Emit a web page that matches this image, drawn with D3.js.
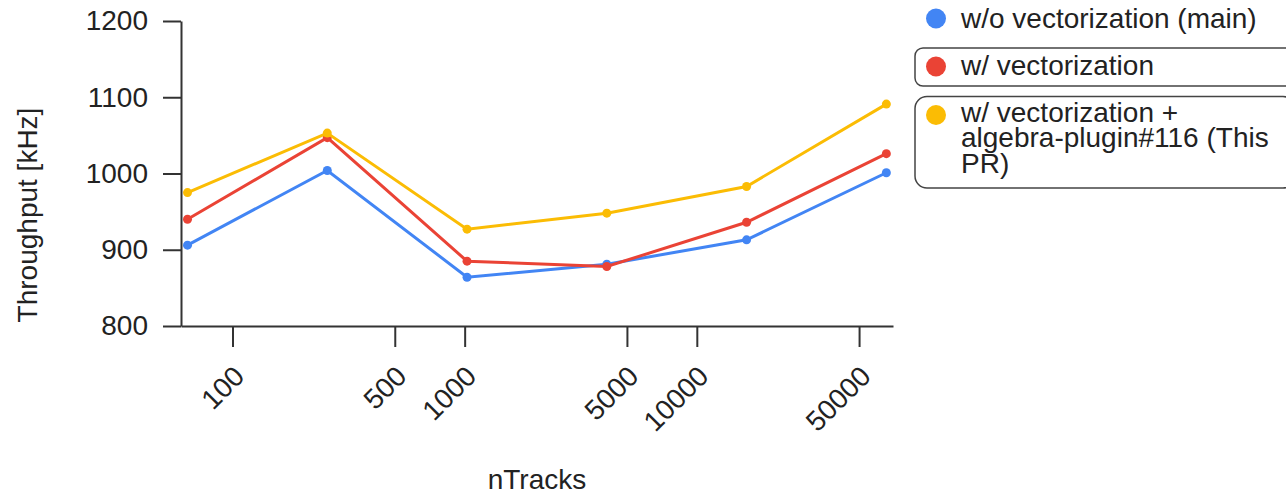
<!DOCTYPE html>
<html><head><meta charset="utf-8">
<script src="https://cdn.jsdelivr.net/npm/d3@7"></script>
<style>html,body{margin:0;padding:0;background:#fff;}svg{display:block;font-family:"Liberation Sans",Arial,sans-serif;}</style>
</head><body><svg id="c" width="1286" height="492"></svg>
<script>
const nTracks = [64, 256, 1024, 4096, 16384, 65536];
const woVec = [906, 1004, 864, 881, 913, 1001];
const wVec = [940, 1047, 885, 878, 936, 1026];
const wVecAlg = [975, 1053, 927, 948, 983, 1091];
const yTicks = [800, 900, 1000, 1100, 1200];
const xTicks = [100, 500, 1000, 5000, 10000, 50000];
const seriesNames = ["w/o vectorization (main)", "w/ vectorization", "w/ vectorization + algebra-plugin#116 (This PR)"];
const legendLines = [["w/o vectorization (main)"], ["w/ vectorization"], ["w/ vectorization +", "algebra-plugin#116 (This", "PR)"]];
const colors = ["#4285F4", "#EA4335", "#FBBC04"];
const series = [woVec, wVec, wVecAlg];

const FS = 28;
const svg = d3.select("#c");
const x = d3.scaleLog().domain([60, 70000]).range([181, 893]);
const y = d3.scaleLinear().domain([800, 1200]).range([326, 21]);
const txt = "#222";

// y axis
const ya = svg.append("g").attr("transform", "translate(181,0)")
  .call(d3.axisLeft(y).tickValues(yTicks).tickSize(18).tickSizeOuter(0).tickPadding(15).tickFormat(d3.format("d")));
ya.selectAll("text").attr("font-size", FS).attr("fill", txt).attr("font-family", "Liberation Sans, Arial, sans-serif");
ya.selectAll("line,path").attr("stroke", "#333").attr("stroke-width", 2);

// x axis
const xa = svg.append("g").attr("transform", "translate(0,326)")
  .call(d3.axisBottom(x).tickValues(xTicks).tickSize(21).tickSizeOuter(0).tickFormat(d3.format("d")));
xa.selectAll("line,path").attr("stroke", "#333").attr("stroke-width", 2);
xa.selectAll("text").attr("font-size", FS).attr("fill", txt).attr("font-family", "Liberation Sans, Arial, sans-serif")
  .attr("text-anchor", "end").attr("dy", "0.35em").attr("y", 0)
  .attr("transform", "translate(6,45) rotate(-45)");

// titles
svg.append("text").attr("transform", "translate(37,215) rotate(-90)").attr("text-anchor", "middle")
  .attr("font-size", FS).attr("fill", txt).text("Throughput [kHz]");
svg.append("text").attr("x", 537).attr("y", 489).attr("text-anchor", "middle")
  .attr("font-size", FS).attr("fill", txt).text("nTracks");

// lines
const line = d3.line().x((d, i) => x(nTracks[i])).y(d => y(d));
series.forEach((s, k) => {
  svg.append("path").datum(s).attr("d", line).attr("fill", "none").attr("stroke", colors[k]).attr("stroke-width", 3);
  svg.selectAll(null).data(s).enter().append("circle")
    .attr("cx", (d, i) => x(nTracks[i])).attr("cy", d => y(d)).attr("r", 4.5).attr("fill", colors[k]);
});

// legend
const lgCy = [18.5, 66.5, 115];
const lgBase = [28, 75, 121.7];
const lg = svg.append("g");
lg.append("rect").attr("x", 915).attr("y", 48).attr("width", 380).attr("height", 38).attr("rx", 8)
  .attr("fill", "none").attr("stroke", "#444").attr("stroke-width", 1.5);
lg.append("rect").attr("x", 915).attr("y", 96.5).attr("width", 380).attr("height", 91.5).attr("rx", 12)
  .attr("fill", "none").attr("stroke", "#444").attr("stroke-width", 1.5);
legendLines.forEach((ls, k) => {
  lg.append("circle").attr("cx", 936).attr("cy", lgCy[k]).attr("r", 10).attr("fill", colors[k]);
  const t = lg.append("text").attr("y", lgBase[k]).attr("font-size", FS).attr("fill", txt);
  ls.forEach((l, j) => t.append("tspan").attr("x", 961).attr("dy", j === 0 ? 0 : 25.5).text(l));
});
</script></body></html>
